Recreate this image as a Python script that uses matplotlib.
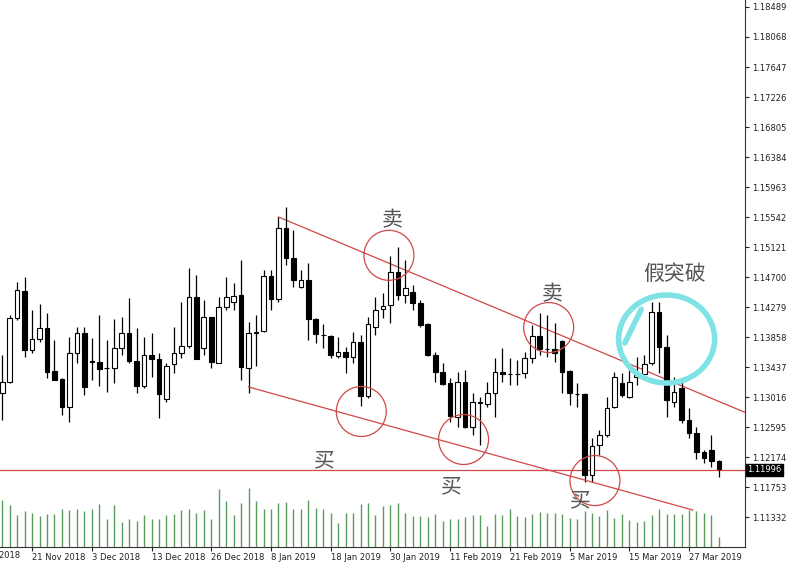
import matplotlib
matplotlib.use("Agg")
import matplotlib.pyplot as plt
from matplotlib.patches import Rectangle, Ellipse, Arc
import numpy as np

opens = [1.13068,1.13232,1.14121,1.14509,1.13676,1.13826,1.13980,1.13382,1.13265,1.12872,1.13639,1.13910,1.13513,1.13513,1.13429,1.13419,1.13700,1.13910,1.13527,1.13171,1.13606,1.13550,1.12989,1.13475,1.13639,1.13737,1.14425,1.13700,1.14135,1.13489,1.14275,1.14355,1.14448,1.13419,1.13920,1.13943,1.14719,1.14387,1.15383,1.14963,1.14556,1.14659,1.14111,1.13892,1.13873,1.13597,1.13653,1.13583,1.13793,1.13036,1.14004,
         1.14247,1.14308,1.14775,1.14448,1.14495,1.14341,1.14041,1.13606,1.13372,1.13209,1.12741,1.13232,1.12601,1.12937,1.12919,1.13068,1.13372,1.13345,1.13335,1.13349,1.13560,1.13873,1.13691,1.13686,1.13803,1.13386,1.13064,1.13059,1.11922,1.12343,1.12484,1.12881,1.13218,1.13022,1.13302,1.13340,1.13489,1.14214,1.13723,1.12951,1.13139,1.12694,1.12507,1.12250,1.12273,1.12119]
highs = [1.13606,1.14167,1.14635,1.14705,1.14238,1.14322,1.14191,1.13817,1.13279,1.13863,1.14004,1.14004,1.13840,1.14167,1.13817,1.14111,1.14144,1.14401,1.13980,1.13863,1.13910,1.13630,1.13489,1.14004,1.14355,1.14822,1.14729,1.14378,1.14135,1.14425,1.14705,1.14612,1.14939,1.14074,1.14167,1.14799,1.14799,1.15547,1.15678,1.15360,1.14799,1.14892,1.14121,1.14041,1.13887,1.13863,1.13723,1.13934,1.13887,1.14144,1.14425,
         1.14471,1.14995,1.15126,1.14939,1.14588,1.14378,1.14051,1.13653,1.13489,1.13279,1.13372,1.13396,1.13068,1.13022,1.13232,1.13560,1.13700,1.13560,1.13536,1.13653,1.14027,1.14191,1.14167,1.14060,1.13817,1.13396,1.13209,1.13068,1.12437,1.12554,1.13022,1.13372,1.13349,1.13396,1.13583,1.13606,1.14355,1.14355,1.13887,1.13302,1.13232,1.12858,1.12601,1.12273,1.12484,1.12133]
lows = [1.12694,1.13209,1.14097,1.13583,1.13630,1.13793,1.13279,1.13255,1.12764,1.12671,1.13489,1.13045,1.13255,1.13176,1.13092,1.13209,1.13606,1.13489,1.13068,1.13139,1.13302,1.12718,1.12951,1.13358,1.13560,1.13700,1.13545,1.13606,1.13419,1.13489,1.14238,1.14238,1.13255,1.13068,1.13457,1.13934,1.14238,1.14355,1.14869,1.14565,1.14542,1.13817,1.13770,1.13700,1.13560,1.13560,1.13349,1.13489,1.12895,1.12998,1.13887,
        1.14121,1.14051,1.14378,1.14331,1.14238,1.14004,1.13592,1.13232,1.13185,1.12671,1.12601,1.12577,1.12484,1.12343,1.12881,1.12741,1.13232,1.13185,1.13185,1.13279,1.13489,1.13606,1.13583,1.13513,1.13078,1.12905,1.12881,1.11829,1.11829,1.12203,1.12460,1.12858,1.13022,1.12998,1.13185,1.13326,1.13466,1.13349,1.12732,1.12881,1.12647,1.12437,1.12142,1.12086,1.12039,1.11899]
closes = [1.13232,1.14121,1.14518,1.13676,1.13826,1.13980,1.13363,1.13255,1.12872,1.13639,1.13910,1.13162,1.13513,1.13405,1.13419,1.13700,1.13910,1.13522,1.13171,1.13606,1.13545,1.13054,1.13452,1.13639,1.13737,1.14425,1.13545,1.14144,1.13503,1.14275,1.14415,1.14434,1.13433,1.13910,1.13930,1.14719,1.14387,1.15383,1.14963,1.14659,1.14659,1.14107,1.13901,1.13882,1.13606,1.13644,1.13583,1.13784,1.13036,1.14036,1.14238,
          1.14294,1.14775,1.14448,1.14542,1.14341,1.14027,1.13606,1.13372,1.13195,1.12750,1.13232,1.12601,1.12942,1.12947,1.13068,1.13372,1.13340,1.13340,1.13340,1.13560,1.13873,1.13686,1.13686,1.13630,1.13372,1.13068,1.13059,1.11922,1.12329,1.12484,1.12858,1.13293,1.13045,1.13232,1.13326,1.13480,1.14214,1.13723,1.12975,1.13092,1.12694,1.12516,1.12250,1.12156,1.12124,1.12002]
volumes = [140,125,95,108,103,92,98,98,115,110,113,108,113,130,85,125,75,85,77,97,83,83,97,100,110,115,103,110,83,173,138,97,133,178,138,115,115,133,135,113,113,142,118,115,102,73,102,103,130,133,97,122,125,133,
           103,92,93,90,98,77,83,85,90,97,97,63,98,97,113,93,90,98,105,103,102,98,88,83,107,103,92,110,88,98,80,75,77,97,113,100,100,100,110,108,103,97,30]
date_labels = ["21 Nov 2018","3 Dec 2018","13 Dec 2018","26 Dec 2018","8 Jan 2019","18 Jan 2019",
               "30 Jan 2019","11 Feb 2019","21 Feb 2019","5 Mar 2019","15 Mar 2019","27 Mar 2019"]
date_pos = [4,12,20,28,36,44,52,60,68,76,84,92]
first_label = "9 Nov 2018"
first_pos = -4
price_ticks = [1.18489,1.18068,1.17647,1.17226,1.16805,1.16384,1.15963,1.15542,1.15121,1.14700,1.14279,
               1.13858,1.13437,1.13016,1.12595,1.12174,1.11753,1.11332]
current_price = 1.11996

plt.rcParams['font.family'] = ['Noto Sans CJK SC', 'DejaVu Sans']
fig = plt.figure(figsize=(8, 5.66), dpi=100)
ax = fig.add_axes([0, 19/566, 745/800, 547/566])
n = len(opens)
x = np.arange(n)
w = 0.62
for i in range(n):
    o, h, l, c = opens[i], highs[i], lows[i], closes[i]
    ax.vlines(x[i], l, h, color='black', lw=0.9, zorder=3)
    bot, top = min(o, c), max(o, c)
    face = 'white' if c >= o else 'black'
    ax.add_patch(Rectangle((x[i]-w/2, bot), w, max(top-bot, 0.00003), facecolor=face,
                           edgecolor='black', lw=0.8, zorder=4))

# volume
vax = ax.twinx()
vax.vlines(x, 0, volumes, color='#5a9a5a', lw=1.0)
vax.set_ylim(0, 1641)
vax.axis('off')

red = '#d04848'
ax.axhline(current_price, color=red, lw=0.9, zorder=2)
ax.plot([37, 99.7], [1.15543, 1.12793], color=red, lw=0.9, zorder=2)
ax.plot([33, 92.5], [1.13158, 1.11432], color=red, lw=0.9, zorder=5)

ew, eh = 50/7.47, 50*0.0001403
for cx, cy in [(51.8, 1.15005), (48.1, 1.12814), (61.8, 1.12421), (73.2, 1.13992), (79.4, 1.11845)]:
    ax.add_patch(Ellipse((cx, cy), ew, eh, fill=False, edgecolor=red, lw=0.9, zorder=6))
cyan = '#7fe3e6'
ax.add_patch(Arc((89.0, 1.13831), 96/7.47, 88*0.0001403, theta1=140, theta2=480,
                 color=cyan, lw=4, zorder=7))
ax.plot([83.4, 85.6], [1.13775, 1.14248], color=cyan, lw=4, solid_capstyle='round', zorder=7)

gray = '#555555'
for tx, ty, s in [(52.2, 1.15500, '卖'), (73.6, 1.14460, '卖'), (90.0, 1.14740, '假突破'),
                  (43.2, 1.12130, '买'), (60.1, 1.11768, '买'), (77.5, 1.11565, '买')]:
    ax.text(tx, ty, s, color=gray, fontsize=15, ha='center', va='center', zorder=8)

for s in ['top', 'left']:
    ax.spines[s].set_visible(False)
ax.spines['right'].set_color('#333333')
ax.spines['bottom'].set_color('#333333')
ax.yaxis.tick_right()
ax.set_yticks(price_ticks)
ax.set_yticklabels([f"{t:.5f}" for t in price_ticks], fontsize=6, family='DejaVu Sans')
ax.tick_params(axis='y', length=3, pad=2, colors='#222222')
ax.set_xticks(date_pos)
ax.set_xticklabels(date_labels, fontsize=6, family='DejaVu Sans', ha='left')
ax.tick_params(axis='x', length=3, pad=1, colors='#222222')
ax.set_xlim(-0.3, 99.5)
ax.set_ylim(1.10913, 1.18587)
ax.text(first_pos, 1.10913, first_label, fontsize=6, family='DejaVu Sans', ha='left', va='top',
        color='#222222', clip_on=False).set_y(1.10913 - 0.00062)
ax.text(1.003, (current_price-1.10913)/(1.18587-1.10913), f"{current_price:.5f}", transform=ax.transAxes,
        fontsize=6, color='white', va='center', ha='left', family='DejaVu Sans',
        bbox=dict(boxstyle='square,pad=0.2', fc='black', ec='black'), zorder=10)
fig.savefig('out.png', dpi=100)
